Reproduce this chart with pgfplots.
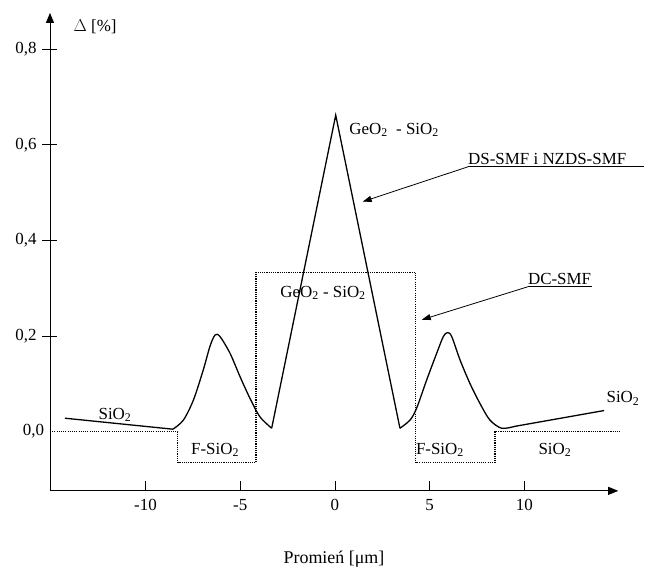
\documentclass[border=0pt]{standalone}
\usepackage{fontspec}
\setmainfont{Liberation Serif}
\usepackage{pgfplots}
\pgfplotsset{compat=1.18}
\usetikzlibrary{arrows.meta}
\begin{document}
\fontsize{17}{20}\selectfont
\begin{tikzpicture}
\begin{axis}[
  x=18.95bp, y=478bp,
  xmin=-15.04, xmax=14.95, ymin=-0.124, ymax=0.876,
  axis x line=bottom, axis y line=left,
  axis line style={line width=0.8bp, -{Triangle[length=10bp,width=8bp]}},
  clip=false,
  xtick={-10,-5,0,5,10},
  ytick={0.2,0.4,0.6,0.8},
  extra y ticks={0},
  extra y tick style={major tick length=0pt},
  xtick align=inside,
  ytick align=center,
  major tick length=15bp,
  xtick style={/pgfplots/major tick length=10bp},
  every tick/.style={black, line width=0.8bp},
  /pgf/number format/assume math mode=true,
  /pgf/number format/use comma,
  yticklabel style={/pgf/number format/fixed, /pgf/number format/fixed zerofill, /pgf/number format/precision=1},
  xticklabel style={yshift=-3bp},
  tick label style={font=\fontsize{17}{20}\selectfont},
]
% bounding box of the whole picture
\path (axis cs:-17.678,-0.283) rectangle (axis cs:16.359,0.903);

% DC-SMF profile (dotted)
\addplot[black, line width=1.3bp, dash pattern=on 1.1bp off 1.1bp] coordinates {
  (-15.04,0) (-8.3,0) (-8.3,-0.065) (-4.17,-0.065) (-4.17,0.333)
  (4.26,0.333) (4.26,-0.065) (8.44,-0.065) (8.44,0) (15.1,0)
};

% DS-SMF / NZDS-SMF profile (solid)
\addplot[black, line width=1.3bp] coordinates {
  (-14.25,0.028) (-8.55,0.005)
};
\addplot[black, line width=1.3bp, smooth] coordinates {
  (-8.55,0.005) (-8.0,0.024) (-7.47,0.066) (-6.95,0.129) (-6.6,0.178)
  (-6.33,0.202) (-6.07,0.199) (-5.54,0.164) (-5.01,0.115) (-4.49,0.070)
  (-3.96,0.031) (-3.34,0.007)
};
\addplot[black, line width=1.3bp] coordinates {
  (-3.34,0.007) (0.04,0.662) (3.43,0.007)
};
\addplot[black, line width=1.3bp, smooth] coordinates {
  (3.43,0.007) (3.96,0.024) (4.31,0.049) (4.84,0.108) (5.37,0.164)
  (5.72,0.199) (5.94,0.207) (6.16,0.199) (6.6,0.150) (7.12,0.101)
  (7.65,0.059) (8.18,0.024) (8.8,0.007) (9.5,0.011)
};
\addplot[black, line width=1.3bp] coordinates {
  (9.5,0.011) (14.2,0.044)
};

% axis labels
\node at (axis cs:-12.66,0.847) {$\Delta$ [\%]};
\node[font=\fontsize{18}{21}\selectfont] at (axis cs:-0.05,-0.268) {Promień [μm]};

% annotations
\node[anchor=west] at (axis cs:0.45,0.631) {GeO\textsubscript{2}\ \ - SiO\textsubscript{2}};
\node at (axis cs:-0.63,0.290) {GeO\textsubscript{2} - SiO\textsubscript{2}};
\node at (axis cs:-11.61,0.035) {SiO\textsubscript{2}};
\node at (axis cs:-6.33,-0.038) {F-SiO\textsubscript{2}};
\node at (axis cs:5.54,-0.038) {F-SiO\textsubscript{2}};
\node at (axis cs:11.61,-0.038) {SiO\textsubscript{2}};
\node at (axis cs:15.2,0.07) {SiO\textsubscript{2}};

\node[anchor=south west, inner xsep=0pt, inner ysep=2bp] at (axis cs:7.02,0.554) {DS-SMF i NZDS-SMF};
\draw[line width=0.8bp] (axis cs:16.3,0.554) -- (axis cs:7.02,0.554);
\draw[line width=0.8bp, -{Triangle[length=9bp,width=6bp]}] (axis cs:7.02,0.554) -- (axis cs:1.46,0.481);

\node[anchor=south west, inner xsep=0pt, inner ysep=2bp] at (axis cs:10.18,0.303) {DC-SMF};
\draw[line width=0.8bp] (axis cs:13.56,0.303) -- (axis cs:10.18,0.303);
\draw[line width=0.8bp, -{Triangle[length=9bp,width=6bp]}] (axis cs:10.18,0.303) -- (axis cs:4.58,0.234);
\end{axis}
\end{tikzpicture}
\end{document}
